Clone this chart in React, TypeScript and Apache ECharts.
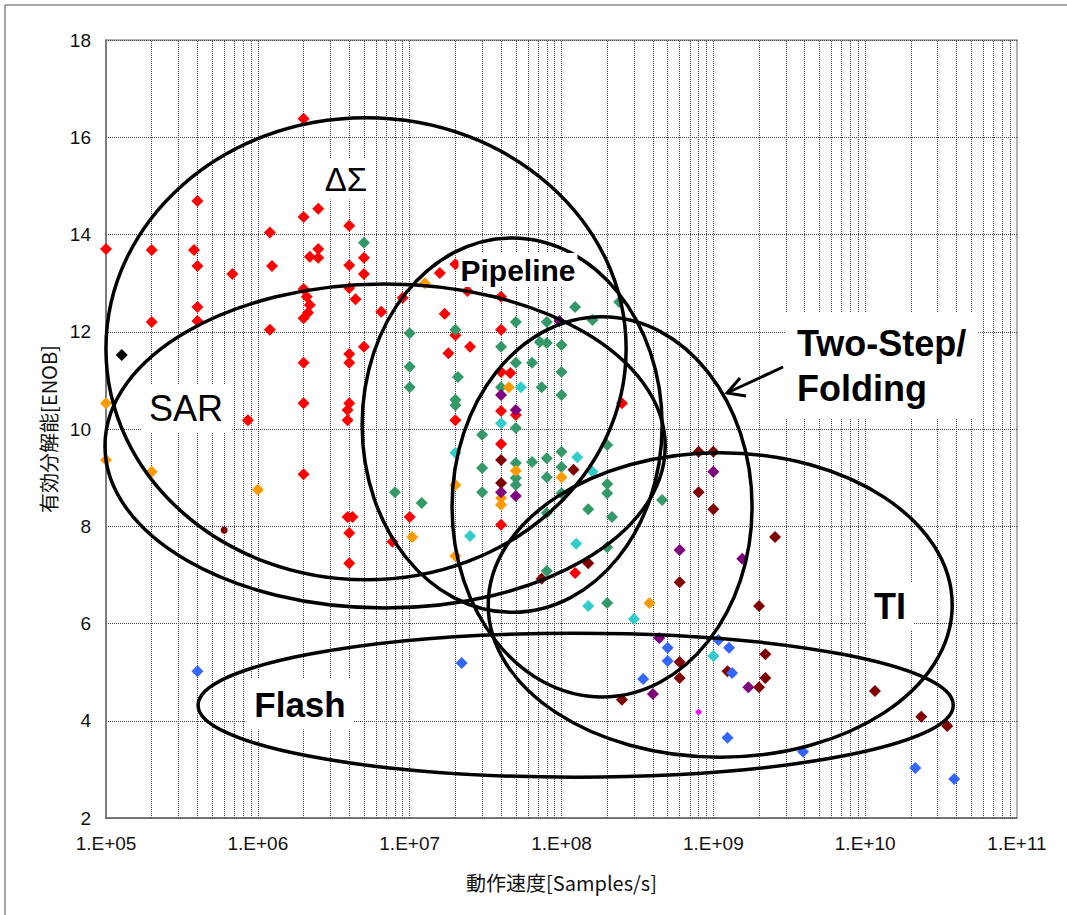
import React, { useEffect, useRef } from "react";
import * as echarts from "echarts";

// ---- data (x: samples/s, y: ENOB) ----
const redPts: number[][] = [
  [1e5, 13.7], [2e5, 13.68], [2e5, 12.2], [3.8e5, 13.68], [4e5, 14.69], [4e5, 13.35], [4e5, 12.51], [4e5, 12.22],
  [6.8e5, 13.19], [8.6e5, 10.18], [1.2e6, 14.04], [1.24e6, 13.35], [1.2e6, 12.04],
  [2e6, 16.38], [2e6, 14.36], [2.5e6, 14.53], [2.5e6, 13.7], [2.2e6, 13.54], [2.5e6, 13.52], [2e6, 12.88], [2.1e6, 12.72],
  [2.2e6, 12.55], [2.14e6, 12.39], [2e6, 12.28], [2e6, 11.36], [2e6, 10.53], [2e6, 9.07],
  [4e6, 14.18], [4e6, 13.37], [4e6, 12.9], [4.4e6, 12.67], [4e6, 11.54], [4e6, 11.36], [4e6, 10.53], [3.9e6, 10.39],
  [3.9e6, 10.18], [3.9e6, 8.19], [4.2e6, 8.19], [4e6, 7.86], [4e6, 7.24],
  [5e6, 13.52], [5e6, 13.19], [5e6, 11.69], [6.5e6, 12.41], [7.7e6, 7.68], [9e6, 12.7], [1e7, 8.19],
  [1.58e7, 13.21], [2e7, 13.39], [1.7e7, 12.37], [2.4e7, 12.84], [2e7, 11.93], [2.5e7, 11.69], [1.8e7, 11.56], [2e7, 10.18],
  [4e7, 12.72], [4e7, 12.04], [4e7, 11.17], [4.6e7, 11.15], [4e7, 10.37], [5e7, 10.29], [4e7, 9.69], [4e7, 8.03],
  [1.23e8, 7.04], [2.5e8, 10.53],
];
const greenPts: number[][] = [
  [5e6, 13.83], [1e7, 11.97], [1e7, 11.28], [1e7, 10.86], [2e7, 12.04], [2.08e7, 11.07], [2e7, 10.6], [2e7, 10.49],
  [8e6, 8.7], [1.2e7, 8.48], [3e7, 9.88], [3e7, 9.2], [3e7, 8.7], [4e7, 11.69], [4e7, 10.86], [5e7, 12.2], [5e7, 11.36],
  [5e7, 10.02], [5e7, 9.3], [5e7, 8.99], [5e7, 8.85], [6.4e7, 11.36], [6.4e7, 9.32], [7.4e7, 10.86], [7.2e7, 11.79],
  [8e7, 11.77], [8e7, 12.2], [8e7, 9.4], [8e7, 9.01], [8e7, 8.27], [8e7, 7.08], [1e8, 11.73], [1e8, 11.17], [1e8, 10.7],
  [1e8, 9.53], [1e8, 9.22], [1e8, 8.68], [1.23e8, 12.51], [1.6e8, 12.24], [2.4e8, 12.61], [1.5e8, 8.35], [2e8, 9.67],
  [2e8, 8.87], [2e8, 8.68], [2.15e8, 8.19], [2e8, 7.57], [2e8, 6.42], [4.6e8, 8.54],
];
const orangePts: number[][] = [
  [1e5, 10.53], [1e5, 9.36], [2e5, 9.12], [1e6, 8.75], [1.26e7, 13.0], [1.04e7, 7.78], [2e7, 8.85], [2e7, 7.39],
  [4.5e7, 10.86], [5e7, 9.14], [4e7, 8.58], [4e7, 8.44], [1e8, 9.01], [3.8e8, 6.42],
];
const cyanPts: number[][] = [
  [5.4e7, 10.86], [4e7, 10.12], [2e7, 9.51], [2.5e7, 7.8], [1.27e8, 9.42], [1.6e8, 9.12], [1.25e8, 7.64], [1.5e8, 6.36],
  [3e8, 6.09], [1e9, 5.33],
];
const darkRedPts: number[][] = [
  [4e7, 9.36], [4e7, 8.89], [1.2e8, 9.16], [1.5e8, 7.24], [7.4e7, 6.92], [8e8, 9.53], [1e9, 9.53], [8e8, 8.7], [1e9, 8.35],
  [2.55e9, 7.78], [6e8, 6.85], [2e9, 6.36], [6e8, 5.21], [6e8, 4.88], [2.5e8, 4.43], [1.24e9, 5.02], [2.2e9, 5.37],
  [2.2e9, 4.88], [2e9, 4.69], [1.16e10, 4.61], [2.34e10, 4.08], [3.47e10, 3.89],
];
const darkRedDot: number[][] = [[6e5, 7.92]];
const purplePts: number[][] = [
  [9.7e7, 12.22], [4e7, 10.7], [5e7, 10.39], [4e7, 8.7], [5e7, 8.62], [1e9, 9.12], [6e8, 7.51], [1.55e9, 7.33],
  [4.4e8, 5.7], [4e8, 4.55], [1.7e9, 4.69],
];
const bluePts: number[][] = [
  [4e5, 5.02], [2.2e7, 5.19], [3.45e8, 4.86], [5e8, 5.5], [5e8, 5.23], [1.08e9, 5.66], [1.27e9, 5.5], [1.33e9, 4.98],
  [1.24e9, 3.65], [3.9e9, 3.36], [2.14e10, 3.03], [3.86e10, 2.8],
];
const blackPts: number[][] = [[1.27e5, 11.52]];
const magentaPts: number[][] = [[8e8, 4.18]];

// axis ranges / ticks
const xMin = 1e5;
const xMax = 1e11;
const yMin = 2;
const yMax = 18;
const yStep = 2;
const decades = [5, 6, 7, 8, 9, 10];
const minorMultipliers = [1, 2, 3, 4, 5, 6, 7, 8, 9];

// architecture regions: centre (x value, ENOB), half width in decades, half height in ENOB
const regionNames = ["ΔΣ", "SAR", "Pipeline", "Two-Step", "TI", "Flash"];
const regionCx = [5.16e6, 6.89e6, 4.73e7, 1.85e8, 1.11e9, 1.24e8];
const regionCy = [11.65, 9.65, 10.08, 8.4, 6.38, 4.32];
const regionRxDecades = [1.713, 1.845, 0.988, 0.988, 1.528, 2.487];
const regionRyEnob = [4.75, 3.33, 3.85, 3.91, 3.13, 1.48];

const fmtX = (v: number) => {
  const e = Math.round(Math.log10(v));
  return "1.E+" + String(e).padStart(2, "0");
};

export default function App() {
  const ref = useRef<HTMLDivElement>(null);
  useEffect(() => {
    if (!ref.current) return;
    const chart = echarts.init(ref.current, null, { renderer: "svg" });

    const gridLines: any[] = [];
    decades.forEach((d) =>
      minorMultipliers.forEach((m) => {
        const v = m * Math.pow(10, d);
        if (v > xMin) gridLines.push({ xAxis: v });
      })
    );

    const diamond = (name: string, data: number[][], color: string, size = 12, symbol = "diamond") => ({
      name,
      type: "scatter",
      data,
      symbol,
      symbolSize: size,
      itemStyle: { color, opacity: 1 },
      z: 3,
      silent: true,
    });

    const tickFont = "'Liberation Sans', Arial, sans-serif";
    const cjkFont = "'Noto Sans CJK JP', sans-serif";

    chart.setOption({
      animation: false,
      backgroundColor: "#ffffff",
      grid: { left: 106, right: 50, top: 40, bottom: 97, show: true, borderColor: "#9a9a9a", borderWidth: 1.5 },
      xAxis: {
        type: "log",
        logBase: 10,
        min: xMin,
        max: xMax,
        splitNumber: 6,
        name: "動作速度[Samples/s]",
        nameLocation: "middle",
        nameGap: 54,
        nameTextStyle: { fontSize: 20, color: "#111", fontFamily: cjkFont },
        axisLine: { show: true, lineStyle: { color: "#6a6a6a", width: 1.5 } },
        axisTick: { show: false },
        splitLine: { show: false },
        axisLabel: { formatter: fmtX, fontSize: 19, color: "#111", margin: 16, fontFamily: tickFont },
      },
      yAxis: {
        type: "value",
        min: yMin,
        max: yMax,
        interval: yStep,
        name: "有効分解能[ENOB]",
        nameLocation: "middle",
        nameGap: 34,
        nameTextStyle: { fontSize: 20, color: "#111", fontFamily: cjkFont },
        axisLine: { show: true, lineStyle: { color: "#6a6a6a", width: 1.5 } },
        axisTick: { show: false },
        splitLine: { show: true, lineStyle: { type: "dotted", color: "#444", width: 1 } },
        axisLabel: { fontSize: 19, color: "#111", margin: 15, fontFamily: tickFont },
      },
      series: [
        {
          type: "scatter",
          data: [],
          silent: true,
          markLine: {
            silent: true,
            symbol: ["none", "none"],
            label: { show: false },
            lineStyle: { type: "dotted", color: "#444", width: 1 },
            data: gridLines,
            z: 1,
          },
        },
        diamond("red", redPts, "#FF0000"),
        diamond("green", greenPts, "#339966"),
        diamond("orange", orangePts, "#FF9900"),
        diamond("cyan", cyanPts, "#33CCCC"),
        diamond("purple", purplePts, "#800080"),
        diamond("darkred", darkRedPts, "#800000"),
        diamond("darkredDot", darkRedDot, "#800000", 7, "circle"),
        diamond("blue", bluePts, "#3366FF"),
        diamond("black", blackPts, "#000000"),
        diamond("magenta", magentaPts, "#FF00FF", 7),
      ],
    });

    const toPx = (x: number, y: number) =>
      chart.convertToPixel({ xAxisIndex: 0, yAxisIndex: 0 }, [x, y]) as number[];

    const ellipses = regionNames.map((_, i) => {
      const c = toPx(regionCx[i], regionCy[i]);
      const e = toPx(regionCx[i] * Math.pow(10, regionRxDecades[i]), regionCy[i] + regionRyEnob[i]);
      return {
        type: "ellipse",
        x: c[0],
        y: c[1],
        shape: { cx: 0, cy: 0, rx: e[0] - c[0], ry: c[1] - e[1] },
        style: { fill: "none", stroke: "#000", lineWidth: 3.5 },
        silent: true,
        z: 10,
      };
    });

    const labelFont = "'Liberation Sans', Arial, sans-serif";
    const label = (
      text: string, x: number, y: number, size: number, weight: string,
      align = "center", pad: number[] = [4, 6], lineHeight?: number
    ) => ({
      type: "text",
      x,
      y,
      z: 20,
      silent: true,
      style: {
        text,
        fill: "#000",
        font: `${weight} ${size}px ${labelFont}`,
        align,
        verticalAlign: "middle",
        backgroundColor: "#ffffff",
        padding: pad,
        lineHeight,
      },
    });

    chart.setOption({
      graphic: [
        { type: "line", shape: { x1: 5, y1: 5, x2: 1067, y2: 5 }, style: { stroke: "#8a8a8a", lineWidth: 1.5 }, silent: true },
        { type: "line", shape: { x1: 5, y1: 5, x2: 5, y2: 915 }, style: { stroke: "#8a8a8a", lineWidth: 1.5 }, silent: true },
        ...ellipses,
        label("ΔΣ", 346, 179, 33, "normal", "center", [4, 4]),
        label("Pipeline", 518, 270, 30, "bold", "center", [2, 2]),
        label("SAR", 186, 408, 36, "normal", "center", [6, 8]),
        label("Two-Step/\nFolding", 785, 366, 36, "bold", "left", [8, 12], 45),
        label("TI", 890, 606, 36, "bold", "center", [6, 8]),
        label("Flash", 300, 704, 35, "bold", "center", [8, 8]),
        {
          type: "line",
          shape: { x1: 783, y1: 367, x2: 729, y2: 392 },
          style: { stroke: "#000", lineWidth: 3 },
          z: 20,
          silent: true,
        },
        {
          type: "polyline",
          shape: { points: [[740, 378], [727, 393], [746, 396]] },
          style: { stroke: "#000", lineWidth: 3, fill: "none" },
          z: 20,
          silent: true,
        },
      ],
    });

    return () => chart.dispose();
  }, []);

  return <div ref={ref} style={{ position: "absolute", left: 0, top: 0, width: 1067, height: 915 }} />;
}
